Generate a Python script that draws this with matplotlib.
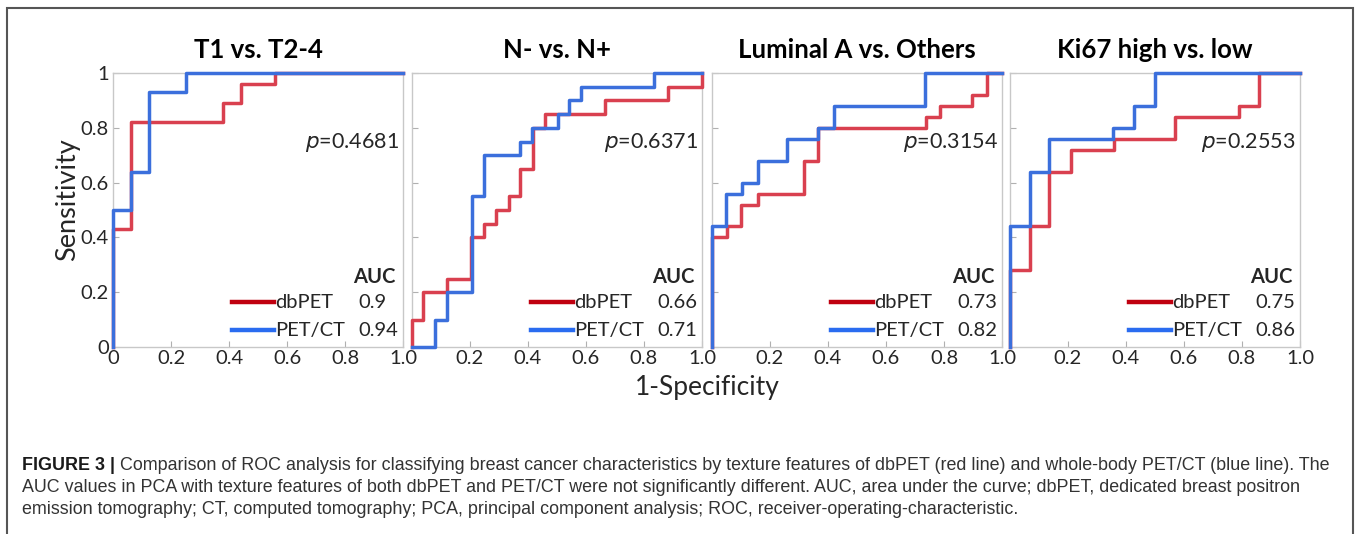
import matplotlib
matplotlib.use("Agg")
import matplotlib.pyplot as plt
from matplotlib.patches import Rectangle
from matplotlib import font_manager

# ROC curves (steps-post: fpr where each tpr level starts)
titles = ["T1 vs. T2-4", "N- vs. N+", "Luminal A vs. Others", "Ki67 high vs. low"]
p_values = ["0.4681", "0.6371", "0.3154", "0.2553"]
auc_dbpet = ["0.9", "0.66", "0.73", "0.75"]
auc_petct = ["0.94", "0.71", "0.82", "0.86"]

dbpet_fpr = [
    [0, 0, 0.062, 0.38, 0.44, 0.56, 1.0],
    [0, 0, 0.038, 0.122, 0.202, 0.25, 0.288, 0.333, 0.374, 0.417, 0.457, 0.664, 0.882, 1.0],
    [0, 0, 0.052, 0.101, 0.159, 0.317, 0.366, 0.738, 0.787, 0.896, 0.948, 1.0],
    [0, 0, 0.069, 0.136, 0.21, 0.358, 0.569, 0.788, 0.858, 1.0],
]
dbpet_tpr = [
    [0, 0.43, 0.82, 0.89, 0.96, 1.0, 1.0],
    [0, 0.1, 0.2, 0.25, 0.4, 0.45, 0.5, 0.55, 0.65, 0.8, 0.85, 0.9, 0.95, 1.0],
    [0, 0.4, 0.44, 0.52, 0.56, 0.68, 0.8, 0.84, 0.88, 0.92, 1.0, 1.0],
    [0, 0.28, 0.44, 0.64, 0.72, 0.76, 0.84, 0.88, 1.0, 1.0],
]
petct_fpr = [
    [0, 0, 0.062, 0.125, 0.25, 1.0],
    [0, 0.08, 0.122, 0.207, 0.248, 0.373, 0.414, 0.503, 0.542, 0.583, 0.834, 1.0],
    [0, 0, 0.047, 0.104, 0.157, 0.26, 0.366, 0.42, 0.735, 1.0],
    [0, 0, 0.069, 0.136, 0.355, 0.428, 0.5, 1.0],
]
petct_tpr = [
    [0, 0.5, 0.64, 0.93, 1.0, 1.0],
    [0, 0.1, 0.2, 0.55, 0.70, 0.75, 0.8, 0.85, 0.9, 0.95, 1.0, 1.0],
    [0, 0.44, 0.56, 0.6, 0.68, 0.76, 0.8, 0.88, 1.0, 1.0],
    [0, 0.44, 0.64, 0.76, 0.8, 0.88, 1.0, 1.0],
]

ticks = [0, 0.2, 0.4, 0.6, 0.8, 1.0]
caption_lines = [
    "Comparison of ROC analysis for classifying breast cancer characteristics by texture features of dbPET (red line) and whole-body PET/CT (blue line). The",
    "AUC values in PCA with texture features of both dbPET and PET/CT were not significantly different. AUC, area under the curve; dbPET, dedicated breast positron",
    "emission tomography; CT, computed tomography; PCA, principal component analysis; ROC, receiver-operating-characteristic.",
]


def pick_font(names):
    for name in names:
        try:
            font_manager.findfont(name, fallback_to_default=False)
            return name
        except Exception:
            continue
    return "DejaVu Sans"


CHART_FONT = pick_font(["Lato", "Open Sans", "DejaVu Sans"])
CAPTION_FONT = pick_font(["Liberation Sans Narrow", "Liberation Sans"])
plt.rcParams["font.family"] = CHART_FONT

W, H = 1358, 534
fig = plt.figure(figsize=(W / 100, H / 100), dpi=100)

RED, BLUE = "#d9404f", "#3b6fdc"
RED_LEG, BLUE_LEG = "#c00010", "#2a6cf0"
TXT = "#262626"
FS = 14.5

lefts = [113, 412, 712, 1010]
ax_w, top, bottom = 290, 73, 347

for i in range(4):
    ax = fig.add_axes([lefts[i] / W, 1 - bottom / H, ax_w / W, (bottom - top) / H])
    ax.plot(dbpet_fpr[i], dbpet_tpr[i], drawstyle="steps-post", color=RED, lw=2.5,
            clip_on=False, zorder=3)
    ax.plot(petct_fpr[i], petct_tpr[i], drawstyle="steps-post", color=BLUE, lw=2.5,
            clip_on=False, zorder=4)
    ax.set_xlim(0, 1)
    ax.set_ylim(0, 1)
    for side in ["top", "right", "left", "bottom"]:
        ax.spines[side].set_color("#c8c8c8")
        ax.spines[side].set_linewidth(1.0)
    ax.tick_params(direction="in", length=4, color="#b0b0b0", labelsize=14.5,
                   labelcolor=TXT, pad=2)
    ax.set_xticks(ticks)
    ax.set_yticks(ticks)
    ax.set_xticklabels(["0" if (t == 0 and i == 0) else ("" if t == 0 else f"{t:.1f}")
                        for t in ticks])
    if i == 0:
        ax.set_yticklabels(["0", "0.2", "0.4", "0.6", "0.8", "1"])
        ax.tick_params(axis="y", pad=3)
    else:
        ax.set_yticklabels([])

    ax.text(0.5, 1.084, titles[i], transform=ax.transAxes, ha="center", va="center",
            fontsize=18.5, fontweight="bold", color="black")
    ax.text(0.985, 0.745, r"$\mathit{p}$=" + p_values[i], transform=ax.transAxes,
            ha="right", va="center", fontsize=15.5, color=TXT)
    ax.text(0.975, 0.255, "AUC", transform=ax.transAxes, ha="right", va="center",
            fontsize=FS, fontweight="bold", color=TXT)
    ax.plot([0.41, 0.555], [0.164, 0.164], transform=ax.transAxes, color=RED_LEG, lw=3.2)
    ax.plot([0.41, 0.555], [0.062, 0.062], transform=ax.transAxes, color=BLUE_LEG, lw=3.2)
    ax.text(0.56, 0.164, "dbPET", transform=ax.transAxes, ha="left", va="center",
            fontsize=FS, color=TXT)
    ax.text(0.56, 0.062, "PET/CT", transform=ax.transAxes, ha="left", va="center",
            fontsize=FS, color=TXT)
    ax.text(0.845, 0.164, auc_dbpet[i], transform=ax.transAxes, ha="left", va="center",
            fontsize=FS, color=TXT)
    ax.text(0.845, 0.062, auc_petct[i], transform=ax.transAxes, ha="left", va="center",
            fontsize=FS, color=TXT)

fig.text(68 / W, 1 - 200 / H, "Sensitivity", rotation=90, ha="center", va="center",
         fontsize=19.5, color=TXT)
fig.text(707 / W, 1 - 387 / H, "1-Specificity", ha="center", va="center",
         fontsize=19, color=TXT)

# outer frame (open at the bottom)
fig.add_artist(Rectangle((7 / W, -0.05), (1353 - 7) / W, 1.05 - 8 / H,
                         transform=fig.transFigure, fill=False, edgecolor="#555555", lw=1.5))

# caption
cap_size = 12.9
renderer = fig.canvas.get_renderer()
head = fig.text(22 / W, 1 - 465 / H, "FIGURE 3 | ", family=CAPTION_FONT, fontsize=cap_size,
                fontweight="bold", color="#1a1a1a", ha="left", va="center")
bb = head.get_window_extent(renderer=renderer)
fig.text(bb.x1 / W, 1 - 465 / H, caption_lines[0], family=CAPTION_FONT, fontsize=cap_size,
         color="#333333", ha="left", va="center")
fig.text(22 / W, 1 - 487 / H, caption_lines[1], family=CAPTION_FONT, fontsize=cap_size,
         color="#333333", ha="left", va="center")
fig.text(22 / W, 1 - 509 / H, caption_lines[2], family=CAPTION_FONT, fontsize=cap_size,
         color="#333333", ha="left", va="center")

fig.savefig("out.png", dpi=100, facecolor="white")
